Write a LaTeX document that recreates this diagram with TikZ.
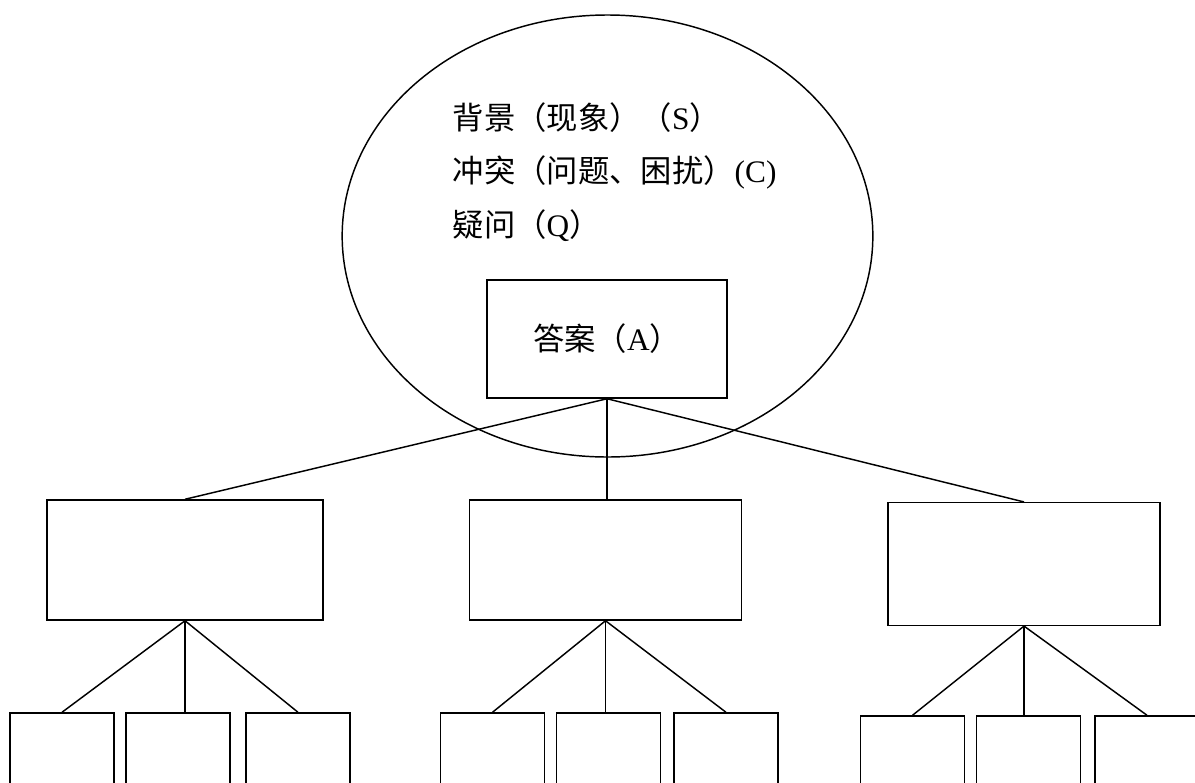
\documentclass[tikz,border=0pt]{standalone}
\usepackage{fontspec}
\setmainfont{Liberation Serif}
\newfontfamily\cjk{Noto Sans CJK SC}
\usetikzlibrary{shapes.geometric}
\begin{document}
\begin{tikzpicture}[x=0.75pt,y=-0.75pt,line width=1.1pt,
  box/.style={draw,rectangle,inner sep=0pt},
  midbox/.style={box,minimum width=204pt,minimum height=90pt},
  leafbox/.style={box,minimum width=78pt,minimum height=90pt},
  txt/.style={font=\fontsize{23.5}{28}\selectfont,anchor=west,inner sep=0pt}]
\clip (0,0) rectangle (1195,782);
%
\node (ell) at (607.5,236) [draw,ellipse,inner sep=0pt,minimum width=398pt,minimum height=331.5pt] {};
\node (sit) at (452,118) [txt] {{\cjk 背景（现象）（}S{\cjk ）}};
\node (cmp) at (452,172) [txt] {{\cjk 冲突（问题、困扰）}(C)};
\node (qst) at (452,226) [txt] {{\cjk 疑问（}Q{\cjk ）}};
\node (ans) at (607,339) [box,minimum width=180pt,minimum height=88.5pt,font=\fontsize{23.5}{28}\selectfont] {{\cjk 答案（}A{\cjk ）}};
%
\node (m1) at (185,560) [midbox,minimum width=207pt] {};
\node (m2) at (605.5,560) [midbox] {};
\node (m3) at (1024,564) [midbox,minimum height=92pt] {};
%
\node (a1) at (62,773) [leafbox] {};
\node (a2) at (178,773) [leafbox] {};
\node (a3) at (298,773) [leafbox] {};
\node (b1) at (492.5,773) [leafbox] {};
\node (b2) at (608.5,773) [leafbox] {};
\node (b3) at (726,773) [leafbox] {};
\node (c1) at (912.5,776) [leafbox] {};
\node (c2) at (1028.5,776) [leafbox] {};
\node (c3) at (1147,776) [leafbox] {};
%
\draw (ans.south) -- (m1.north);
\draw (ans.south) -- (ans.south |- m2.north);
\draw (ans.south) -- (m3.north);
%
\draw (m1.south) -- (a1.north);
\draw (m1.south) -- (m1.south |- a2.north);
\draw (m1.south) -- (a3.north);
\draw (m2.south) -- (b1.north);
\draw (m2.south) -- (m2.south |- b2.north);
\draw (m2.south) -- (b3.north);
\draw (m3.south) -- (c1.north);
\draw (m3.south) -- (m3.south |- c2.north);
\draw (m3.south) -- (c3.north);
\end{tikzpicture}
\end{document}
